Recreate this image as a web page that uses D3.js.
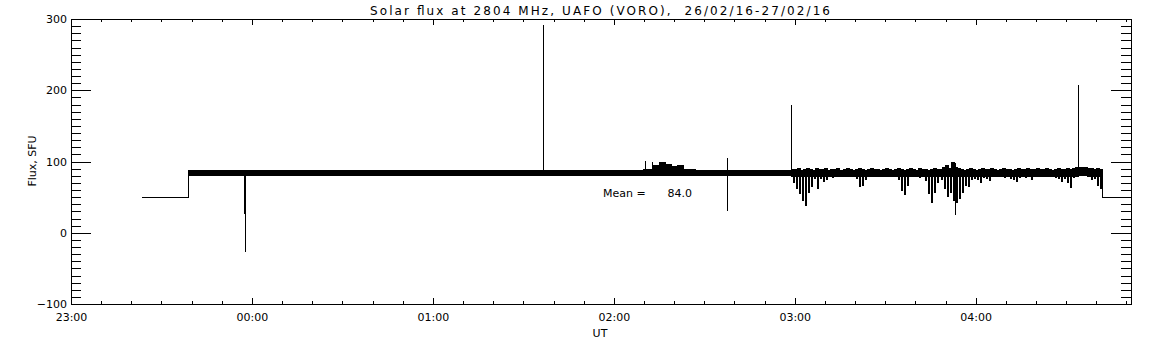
<!DOCTYPE html>
<html>
<head>
<meta charset="utf-8">
<script src="https://cdn.jsdelivr.net/npm/d3@7"></script>
<style>
  body { margin: 0; background: #fff; }
  text { font-family: "DejaVu Sans", sans-serif; fill: #000; }
</style>
</head>
<body>
<svg id="chart"></svg>
<script>
// minutes after 23:00 UT, 26/02/16
const envMinutes = [
  23.5, 39, 43, 47, 51, 55, 59, 63, 67, 71, 75, 79, 83, 87, 91, 95, 99, 103, 107, 111,
  115, 119, 123, 127, 131, 135, 139, 143, 147, 151, 155, 159, 163, 167, 171, 175, 179, 183, 187,
  190, 193, 195, 197, 199, 201, 203, 207, 211, 215, 219, 223, 227, 231, 235, 238,
  239, 240, 241, 242, 243, 244, 245, 246, 247, 248,
  249, 250, 251, 252, 253, 254, 255, 256, 257, 258,
  259, 260, 261, 262, 263, 264, 265, 266, 267, 268,
  269, 270, 271, 272, 273, 274, 275, 276, 277, 278,
  279, 280, 281, 282, 283, 284, 285, 286, 287, 288,
  289, 290, 291, 292, 293, 294, 295, 296, 297, 298,
  299, 300, 301, 302, 303, 304, 305, 306, 307, 308,
  309, 310, 311, 312, 313, 314, 315, 316, 317, 318,
  319, 320, 321, 322, 323, 324, 325, 326, 327, 328,
  329, 330, 331, 332, 333, 334, 335, 336, 337, 338,
  339, 340, 341, 342, 351.5
];
const envLow = [
  50, 81, 81, 81, 81, 81, 81, 81, 81, 81, 81, 81, 81, 81, 81, 81, 81, 81, 81, 81,
  81, 81, 81, 81, 81, 81, 81, 81, 81, 81, 81, 81, 81, 81, 81, 81, 81, 81, 81,
  81, 81, 81, 81, 81, 81, 81, 81, 81, 81, 81, 81, 80, 81, 80, 80,
  70, 62, 55, 45, 38, 56, 64, 76, 61, 76,
  71, 74, 78, 77, 79, 78, 79, 78, 79, 78,
  79, 76, 64, 66, 74, 78, 79, 78, 79, 79,
  78, 79, 78, 79, 78, 74, 58, 53, 66, 78,
  79, 78, 77, 78, 72, 55, 42, 56, 70, 74,
  62, 50, 56, 45, 42, 48, 56, 66, 64, 74,
  76, 74, 70, 77, 76, 72, 78, 79, 78, 79,
  77, 78, 76, 74, 71, 77, 78, 77, 79, 74,
  78, 79, 78, 79, 78, 79, 78, 77, 76, 71,
  76, 70, 63, 77, 79, 80, 81, 80, 78, 74,
  76, 66, 62, 50, 50
];
const envHigh = [
  50, 88, 88, 88, 88, 88, 88, 88, 88, 88, 88, 88, 88, 88, 88, 88, 88, 88, 88, 88,
  88, 88, 88, 88, 88, 88, 88, 88, 88, 88, 88, 88, 88, 88, 88, 88, 88, 88, 88,
  89, 95, 98, 96, 93, 95, 89, 88, 88, 88, 88, 88, 88, 88, 88, 88,
  89, 89, 90, 88, 89, 90, 89, 88, 90, 89,
  89, 90, 88, 89, 89, 90, 88, 89, 90, 89,
  88, 89, 90, 89, 88, 89, 90, 89, 89, 88,
  89, 90, 89, 88, 89, 90, 89, 88, 89, 90,
  89, 88, 90, 89, 89, 88, 89, 90, 89, 89,
  92, 95, 90, 98, 92, 90, 89, 88, 89, 90,
  89, 88, 89, 90, 89, 89, 90, 89, 88, 89,
  90, 89, 89, 88, 89, 90, 89, 89, 90, 89,
  89, 90, 89, 89, 90, 89, 88, 89, 90, 89,
  89, 90, 89, 90, 91, 92, 92, 91, 90, 90,
  89, 90, 89, 50, 50
];

// isolated single-sample spikes
const spikeMinutes = [57.4, 57.7, 156.5, 190.3, 192.6, 217.5, 238.7, 293.2, 333.8];
const spikeLow = [27, -27, 85, 82, 82, 30, 84, 25, 84];
const spikeHigh = [88, 88, 291, 101, 100, 105, 180, 98, 208];

const yTicks = [-100, 0, 100, 200, 300];
const meanFlux = 84.0;
const titleText = 'Solar flux at 2804 MHz, UAFO (VORO),  26/02/16-27/02/16';

const width = 1152,
      height = 345,
      plotLeft = 71, plotRight = 1131, plotTop = 19, plotBottom = 304,
      bandFloor = 79;

const T0 = Date.UTC(2016, 1, 26, 23, 0);
const toDate = (m) => new Date(T0 + m * 60000);

const svg = d3.select('#chart')
  .attr('width', width)
  .attr('height', height);

const x = d3.scaleUtc()
  .domain([toDate(0), toDate(351.5)])
  .range([plotLeft, plotRight]);

const y = d3.scaleLinear()
  .domain([-100, 300])
  .range([plotBottom, plotTop]);

function styleAxis(g) {
  g.select('.domain').remove();
  g.selectAll('line').attr('stroke', '#000');
  g.selectAll('text').attr('font-family', '"DejaVu Sans", sans-serif').attr('font-size', 11).attr('fill', '#000');
  g.attr('shape-rendering', 'crispEdges');
}

// bottom axis
svg.append('g')
  .attr('transform', `translate(0,${plotBottom})`)
  .call(d3.axisBottom(x).ticks(d3.utcHour.every(1)).tickSize(-6).tickPadding(9).tickFormat(d3.utcFormat('%H:%M')))
  .call(styleAxis);
svg.append('g')
  .attr('transform', `translate(0,${plotBottom})`)
  .call(d3.axisBottom(x).ticks(d3.utcMinute.every(10)).tickSize(-3).tickFormat(''))
  .call(styleAxis);

// top axis
svg.append('g')
  .attr('transform', `translate(0,${plotTop})`)
  .call(d3.axisTop(x).ticks(d3.utcHour.every(1)).tickSize(-6).tickFormat(''))
  .call(styleAxis);
svg.append('g')
  .attr('transform', `translate(0,${plotTop})`)
  .call(d3.axisTop(x).ticks(d3.utcMinute.every(10)).tickSize(-3).tickFormat(''))
  .call(styleAxis);

// left axis
svg.append('g')
  .attr('transform', `translate(${plotLeft},0)`)
  .call(d3.axisLeft(y).tickValues(yTicks).tickSize(-20).tickPadding(4))
  .call(styleAxis);
svg.append('g')
  .attr('transform', `translate(${plotLeft},0)`)
  .call(d3.axisLeft(y).tickValues(d3.range(-100, 301, 10)).tickSize(-10).tickFormat(''))
  .call(styleAxis);

// right axis
svg.append('g')
  .attr('transform', `translate(${plotRight},0)`)
  .call(d3.axisRight(y).tickValues(yTicks).tickSize(-20).tickFormat(''))
  .call(styleAxis);
svg.append('g')
  .attr('transform', `translate(${plotRight},0)`)
  .call(d3.axisRight(y).tickValues(d3.range(-100, 301, 10)).tickSize(-10).tickFormat(''))
  .call(styleAxis);

// frame
svg.append('rect')
  .attr('x', plotLeft + 0.5)
  .attr('y', plotTop + 0.5)
  .attr('width', plotRight - plotLeft)
  .attr('height', plotBottom - plotTop)
  .attr('fill', 'none')
  .attr('stroke', '#000')
  .attr('shape-rendering', 'crispEdges');

// flux trace: solid band for the normal noise, needles for the dips
const env = envMinutes.map((m, i) => ({ t: toDate(m), lo: envLow[i], hi: envHigh[i] }));

const area = d3.area()
  .curve(d3.curveStepAfter)
  .x((d) => x(d.t))
  .y0((d) => y(d.hi > 50 ? Math.max(d.lo, bandFloor) : d.lo))
  .y1((d) => y(d.hi));

svg.append('path')
  .datum(env)
  .attr('d', area)
  .attr('fill', '#000')
  .attr('stroke', '#000')
  .attr('stroke-width', 1)
  .attr('shape-rendering', 'crispEdges');

svg.selectAll('.needle')
  .data(env.filter((d) => d.hi > 50 && d.lo < bandFloor))
  .enter()
  .append('line')
    .classed('needle', true)
    .attr('x1', (d) => Math.round(x(d.t)) + 1.5)
    .attr('x2', (d) => Math.round(x(d.t)) + 1.5)
    .attr('y1', (d) => y(d.lo))
    .attr('y2', (d) => y(d.hi))
    .attr('stroke', '#000')
    .attr('stroke-width', 2)
    .attr('shape-rendering', 'crispEdges');

svg.selectAll('.spike')
  .data(spikeMinutes.map((m, i) => ({ t: toDate(m), lo: spikeLow[i], hi: spikeHigh[i] })))
  .enter()
  .append('line')
    .classed('spike', true)
    .attr('x1', (d) => Math.round(x(d.t)) + 0.5)
    .attr('x2', (d) => Math.round(x(d.t)) + 0.5)
    .attr('y1', (d) => y(d.lo))
    .attr('y2', (d) => y(d.hi))
    .attr('stroke', '#000')
    .attr('stroke-width', 1)
    .attr('shape-rendering', 'crispEdges');

// texts
svg.append('text')
  .attr('x', 600)
  .attr('y', 15)
  .attr('text-anchor', 'middle')
  .attr('font-size', 12)
  .attr('textLength', 460)
  .attr('lengthAdjust', 'spacing')
  .style('white-space', 'pre')
  .text(titleText);

svg.append('text')
  .attr('x', 603)
  .attr('y', 197)
  .attr('font-size', 11)
  .text('Mean =');

svg.append('text')
  .attr('x', 692)
  .attr('y', 197)
  .attr('font-size', 11)
  .attr('text-anchor', 'end')
  .text(meanFlux.toFixed(1));

svg.append('text')
  .attr('x', 600)
  .attr('y', 337)
  .attr('text-anchor', 'middle')
  .attr('font-size', 11)
  .text('UT');

svg.append('text')
  .attr('transform', 'translate(36,161) rotate(-90)')
  .attr('text-anchor', 'middle')
  .attr('font-size', 11)
  .text('Flux, SFU');
</script>
</body>
</html>
